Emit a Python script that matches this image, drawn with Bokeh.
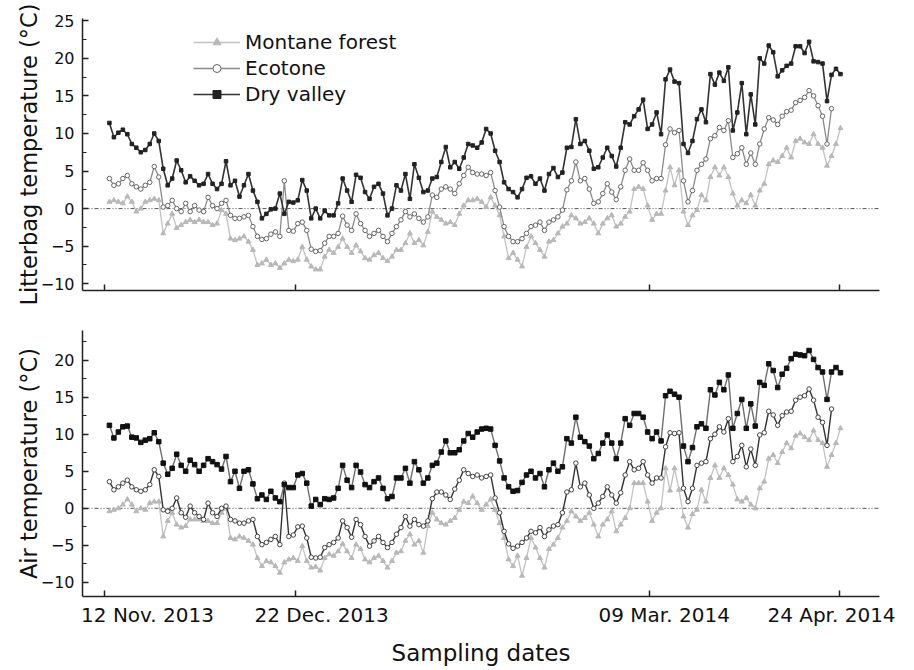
import numpy as np
from bokeh.plotting import figure
from bokeh.models import (LinearAxis, FixedTicker, SingleIntervalTicker, Range1d,
                          Span, Legend, LegendItem)
from bokeh.layouts import column
from bokeh.embed import file_html
from bokeh.resources import INLINE

nan = float("nan")

# ---------------- data (daily values, 12 Nov 2013 -> 24 Apr 2014) ----------------
SERIES_NAMES = ["Montane forest", "Ecotone", "Dry valley"]
TICK_LABELS = ["12 Nov. 2013", "22 Dec. 2013", "09 Mar. 2014", "24 Apr. 2014"]
Y_LABELS = ["Litterbag temperature (\u00b0C)", "Air temperature (\u00b0C)"]
X_LABEL = "Sampling dates"

LITTER_MONTANE = [
    0.9, 1.1, 0.9, 0.7, 1.6, 0.9, -0.4, 0.0, 0.9, 1.1, 1.3, 1.1, -3.3, -2.0, -0.7, -2.6, -2.2, -1.8, -1.5, -1.8,
    -1.5, -1.8, -1.8, -2.2, -2.0, -0.2, -0.7, -4.0, -4.2, -4.0, -3.7, -4.4, -5.5, -7.5, -7.3, -6.8, -7.5, -7.3, -7.9, -7.3,
    -6.8, -7.0, -6.8,
    -5.1, -6.8, -7.7, -8.1, -8.1, -6.4, -5.5, -5.9, -5.1, -4.0, -5.1, -5.9, -4.9, -5.7, -6.6, -6.8, -6.2, -5.9, -6.6, -7.0,
    -6.4, -5.5, -5.5, -4.6, -3.3, -4.6, -4.2, -4.9, -3.1, -0.4, -1.1, -1.5, -2.0, -1.8, -2.2, -0.7, 0.4, 1.1, 1.1, 1.3,
    0.9, 0.2,
    1.5, 0.4, -0.9, -3.7, -6.6, -5.9, -6.8, -7.7, -5.1, -3.7, -4.6, -5.5, -6.4, -4.4, -4.2, -3.3, -2.4, -2.0, -0.9, -1.3,
    -2.0, -1.8, -1.3, -2.0, -3.3, -2.0, -1.3, -0.9, -2.4, -2.0, -1.1, -0.4, 2.6, 2.9, 2.6, 0.4, -1.5, -0.7,
    -0.7, 2.4, 5.5, 3.1, 5.1, -0.4, -2.2, -0.9, -0.2, 1.8, 1.1, 4.2, 5.5, 4.4, 5.5, 4.2, 2.0, 0.4, 1.1, 0.7,
    1.8, 0.4, 2.4, 3.3, 5.9, 6.4, 6.2, 7.0, 8.1, 6.8, 9.0, 9.3, 8.8, 8.6, 9.9, 8.6, 8.1, 5.7, 7.0, 8.6, 10.7,
]
LITTER_ECOTONE = [
    4.0, 3.1, 3.3, 4.0, 4.4, 3.3, 2.9, 2.6, 3.1, 3.5, 5.6, 4.2, 0.2, 0.4, 1.1, 0.0, -0.4, 0.7, -0.4, 0.4,
    -0.2, -0.4, 1.5, 0.4, 0.0, 0.7, 1.1, -0.9, -1.3, -1.3, -1.1, -0.9, -2.4, -3.7, -4.1, -4.0, -3.4, -3.1, -3.7, 3.7,
    -2.9, -3.0, -2.0,
    -1.8, -2.9, -5.4, -5.7, -5.6, -4.6, -3.7, -3.7, -3.3, -1.0, -2.2, -2.9, -0.7, -2.0, -2.9, -3.7, -3.3, -2.9, -3.7, -4.4,
    -3.3, -2.4, -1.5, -0.4, -1.1, -0.7, -1.3, -1.8, -1.1, 1.8, 1.5, 2.6, 2.9, 2.6, 2.0, 3.3, 4.4, 5.5, 4.8, 4.6,
    4.6, 4.4,
    4.8, 2.4, 0.2, -2.4, -3.7, -4.4, -4.4, -4.0, -3.3, -2.4, -2.2, -1.8, -2.9, -1.8, -1.5, -1.1, -0.2, 2.5, 3.7, 6.2,
    3.7, 4.0, 2.6, 0.7, 0.9, 2.0, 3.3, 2.2, 1.2, 2.9, 5.1, 6.6, 5.1, 5.1, 6.1, 5.1, 3.7, 4.0,
    4.0, 8.5, 10.6, 10.1, 10.4, 3.7, 0.9, 2.4, 5.1, 5.9, 6.6, 9.3, 9.7, 10.8, 10.4, 11.7, 6.8, 7.3, 8.1, 5.9,
    7.4, 5.9, 8.6, 10.6, 12.1, 11.8, 11.2, 12.3, 12.9, 13.1, 14.1, 14.4, 14.8, 15.7, 15.0, 13.7, 12.3, 8.6, 13.3, nan, nan,
]
LITTER_DRY = [
    11.4, 9.5, 10.1, 10.5, 9.9, 8.6, 8.1, 7.5, 7.8, 8.6, 10.0, 9.0, 5.3, 3.1, 4.0, 6.4, 5.1, 3.5, 4.3, 3.7,
    3.1, 3.3, 4.6, 3.3, 2.6, 3.3, 6.3, 3.1, 3.7, 1.6, 3.1, 4.6, 2.4, 0.9, -1.3, -0.7, -0.1, 0.0, 2.0, -0.7,
    0.9, 0.8, 1.1,
    3.8, 2.4, -1.3, 0.0, -1.3, -0.3, -0.9, -0.9, 0.7, 4.0, 2.4, 0.9, 4.5, 4.1, 2.2, 1.3, 2.9, 3.3, 2.0, -0.9,
    0.0, 3.1, 2.4, 4.6, 1.3, 5.9, 4.1, 2.2, 2.4, 4.0, 4.2, 6.2, 8.2, 5.5, 6.2, 5.3, 6.8, 8.6, 8.4, 8.1,
    8.8, 10.6,
    10.0, 7.7, 6.2, 3.5, 2.6, 2.2, 1.5, 2.6, 4.1, 4.3, 3.3, 4.0, 2.4, 4.6, 5.4, 4.2, 4.8, 8.1, 8.2, 11.9,
    8.6, 9.0, 7.7, 5.3, 5.5, 6.8, 8.1, 7.0, 5.6, 8.1, 11.5, 11.2, 12.3, 13.2, 14.5, 10.6, 11.2, 12.8,
    9.9, 17.2, 18.5, 16.9, 16.7, 8.6, 7.4, 9.0, 11.9, 13.2, 11.5, 17.9, 16.5, 18.1, 17.0, 18.8, 10.4, 12.8, 16.7, 9.9,
    15.2, 11.2, 20.0, 19.3, 21.7, 20.8, 17.6, 18.4, 19.0, 19.3, 21.6, 21.6, 20.7, 22.2, 19.6, 19.5, 19.3, 14.3, 17.8, 18.6, 17.9,
]

AIR_MONTANE = [
    -0.4, -0.2, 0.0, 0.5, 1.2, 0.5, -0.4, 0.0, -0.2, 0.7, 0.9, 0.9, -3.8, -1.7, -0.6, -2.2, -2.6, -2.4, -1.5, -1.5,
    -1.5, -1.7, -1.7, -2.0, -2.0, -0.6, 0.0, -4.0, -4.2, -3.8, -4.0, -4.4, -4.9, -6.7, -7.8, -7.1, -7.3, -7.8, -8.7, -7.3,
    -6.9, -6.7, -7.1,
    -5.1, -7.1, -8.0, -7.9, -8.4, -6.7, -6.2, -6.4, -5.8, -4.8, -5.8, -6.7, -4.9, -5.5, -6.9, -7.3, -6.7, -6.4, -7.1, -8.0,
    -7.1, -6.0, -5.8, -4.4, -3.5, -4.9, -4.4, -6.0, -2.4, -0.6, -1.5, -2.0, -2.2, -1.7, -1.3, -0.2, 0.9, 0.7, 1.6, 0.7,
    -0.2, 0.5,
    1.2, -0.2, -2.0, -4.0, -6.9, -7.8, -6.4, -9.1, -6.7, -4.0, -5.3, -6.7, -8.0, -5.5, -4.9, -4.0, -2.6, -1.7, -0.4, -1.1,
    -1.7, -1.3, -0.6, -2.2, -3.8, -2.2, -1.5, -0.4, -3.1, -2.2, -1.3, 0.0, 3.4, 3.4, 3.4, 0.9, -1.7, -0.6,
    0.0, 5.4, 2.4, 5.4, 2.5, -1.1, -2.6, -0.8, -0.2, 2.5, 0.9, 4.1, 5.8, 4.1, 5.4, 4.5, 3.2, 1.2, 0.9, 1.4,
    0.5, 0.0, 2.7, 3.6, 6.7, 7.2, 6.1, 7.6, 8.8, 8.1, 9.8, 10.1, 9.6, 9.2, 10.5, 9.2, 8.8, 5.6, 7.2, 8.8, 10.8,
]
AIR_ECOTONE = [
    3.6, 2.5, 2.9, 3.4, 3.8, 2.9, 2.5, 2.3, 2.5, 3.2, 5.2, 4.3, -0.2, -0.4, 0.0, 1.4, -0.6, -1.2, 0.3, -0.6,
    -1.1, -1.5, 0.7, -0.6, -1.1, 0.0, 0.3, -1.5, -1.7, -2.0, -2.0, -1.7, -1.5, -3.8, -4.9, -4.6, -4.2, -3.8, -4.9, 3.4,
    -3.8, -3.6, -2.5,
    -2.4, -4.0, -6.6, -6.7, -6.6, -5.3, -4.9, -4.6, -4.0, -1.7, -2.6, -3.9, -1.5, -2.2, -3.8, -5.1, -4.4, -3.8, -4.6, -5.3,
    -4.6, -3.5, -2.6, -1.1, -2.4, -1.5, -2.2, -2.4, -1.7, 1.3, 2.2, 2.2, 1.8, 1.2, 2.6, 3.8, 5.2, 4.7, 4.3, 4.5,
    4.1, 4.3,
    4.5, 1.4, -0.6, -3.1, -4.8, -5.4, -5.1, -4.6, -4.0, -3.1, -3.3, -2.6, -3.8, -2.9, -2.4, -2.2, -0.6, 2.2, 2.5, 6.1,
    2.9, 3.4, 1.8, 0.0, 0.7, 1.6, 2.9, 1.8, 0.7, 2.1, 4.5, 6.3, 5.2, 5.4, 6.3, 4.5, 3.4, 4.1,
    4.1, 8.3, 10.2, 10.1, 10.2, 2.7, 0.9, 2.7, 5.8, 6.1, 6.3, 9.4, 10.0, 11.0, 10.3, 12.1, 6.3, 7.0, 8.5, 5.6,
    8.0, 5.8, 9.9, 10.2, 13.1, 12.6, 11.2, 12.5, 13.0, 13.1, 14.6, 15.0, 15.2, 16.1, 14.6, 12.3, 11.6, 8.5, 13.4, nan, nan,
]
AIR_DRY = [
    11.2, 9.5, 10.3, 11.0, 11.1, 9.6, 9.5, 8.9, 9.2, 9.4, 10.2, 9.0, 6.1, 4.6, 5.4, 7.3, 5.8, 5.0, 6.5, 5.9,
    5.0, 5.8, 6.7, 6.3, 5.9, 5.3, 7.0, 3.6, 5.0, 2.7, 5.0, 5.2, 3.3, 1.3, 1.8, 1.2, 2.3, 1.4, 0.9, 3.2,
    2.8, 2.8, 4.5,
    4.7, 3.4, 0.3, 1.2, 0.5, 1.3, 1.2, 1.4, 2.7, 5.8, 3.8, 2.8, 5.8, 4.9, 3.2, 2.8, 3.6, 4.1, 2.7, 1.3,
    1.6, 4.1, 4.1, 5.4, 3.4, 6.3, 5.2, 3.4, 4.1, 5.8, 6.1, 7.6, 9.1, 7.5, 7.5, 7.9, 9.1, 10.1, 9.6, 10.3,
    10.7, 10.8,
    10.7, 8.5, 6.4, 4.1, 2.9, 2.3, 2.4, 3.5, 4.5, 5.0, 4.1, 4.7, 2.9, 5.2, 6.1, 5.0, 5.6, 9.4, 8.8, 12.3,
    9.6, 9.0, 8.4, 6.7, 7.4, 8.8, 9.9, 8.8, 6.7, 8.8, 12.1, 11.2, 12.8, 12.8, 12.3, 10.3, 9.4, 10.3,
    9.1, 15.2, 15.8, 15.4, 15.0, 8.4, 6.3, 8.2, 11.0, 11.4, 10.8, 16.0, 15.3, 17.0, 16.0, 18.0, 10.8, 12.8, 14.7, 10.8,
    14.1, 11.1, 17.0, 16.6, 19.5, 18.6, 16.3, 18.1, 18.9, 20.2, 20.8, 20.7, 20.6, 21.3, 20.1, 19.0, 18.4, 14.7, 18.4, 19.0, 18.3,
]

# ---------------- layout / style constants ----------------
FONT = "DejaVu Sans"
N = len(LITTER_DRY)
days = np.arange(N)
for s in (LITTER_MONTANE, LITTER_ECOTONE, AIR_MONTANE, AIR_ECOTONE, AIR_DRY):
    assert len(s) == N, len(s)

TICK_POS = [-1.1, 41.5, 120.4, 162.8]     # where the tick marks sit (day index)
LABEL_POS = [8.5, 47.3, 123.7, 161.0]     # where the tick texts sit (day index)

FIG_W = 910
xr = Range1d(-6.0, 171.7)


def style_yaxis(p, label):
    ax = p.yaxis[0]
    ax.ticker = SingleIntervalTicker(interval=5, num_minor_ticks=2)
    ax.axis_label = label
    ax.axis_label_text_font = FONT
    ax.axis_label_text_font_size = "22.5px"
    ax.axis_label_text_font_style = "normal"
    ax.axis_label_text_color = "#111111"
    ax.axis_label_standoff = -4
    ax.major_label_text_font = FONT
    ax.major_label_text_font_size = "16px"
    ax.major_label_text_color = "#111111"
    ax.major_label_standoff = 8
    ax.major_tick_in = 6
    ax.major_tick_out = 0
    ax.minor_tick_in = 4
    ax.minor_tick_out = 0
    ax.axis_line_width = 1.5
    ax.axis_line_color = "#222222"
    ax.major_tick_line_width = 1.5
    ax.major_tick_line_color = "#222222"
    ax.minor_tick_line_width = 1.2
    ax.minor_tick_line_color = "#222222"


def tick_axis():
    # axis line + tick marks only; its labels are not drawn (no colour)
    ax = LinearAxis(ticker=FixedTicker(ticks=TICK_POS, minor_ticks=[]))
    ax.major_label_text_color = None
    ax.major_label_text_font_size = "1px"
    ax.major_label_standoff = 0
    ax.major_tick_in = 6
    ax.major_tick_out = 0
    ax.axis_line_width = 1.5
    ax.axis_line_color = "#222222"
    ax.major_tick_line_width = 1.5
    ax.major_tick_line_color = "#222222"
    return ax


def make_panel(height, yr, border_top, border_bottom, ylabel):
    p = figure(width=FIG_W, height=height, x_range=xr, y_range=Range1d(*yr),
               output_backend="svg", toolbar_location=None,
               x_axis_location=None, y_axis_location="left",
               min_border_left=82, min_border_right=FIG_W - 879,
               min_border_top=border_top, min_border_bottom=border_bottom)
    p.grid.visible = False
    p.outline_line_color = None
    p.background_fill_color = "white"
    p.border_fill_color = "white"
    style_yaxis(p, ylabel)
    p.add_layout(Span(location=0, dimension="width", line_color="#555555",
                      line_width=1, line_dash="4 2 1 2 1 2", level="underlay"))
    p.add_layout(tick_axis(), "below")
    return p


def draw(p, y, lcol, lw, marker, msize, mfill, mline):
    r1 = p.line(days, y, line_color=lcol, line_width=lw)
    r2 = p.scatter(days, y, marker=marker, size=msize, fill_color=mfill,
                   line_color=mline, line_width=1)
    return [r1, r2]


# ---------------- top panel ----------------
p1 = make_panel(314, (-10.9, 25.3), 18, 24, Y_LABELS[0])
r_mf = draw(p1, LITTER_MONTANE, "#c2c2c2", 1.3, "triangle", 5, "#b8b8b8", "#b8b8b8")
r_ec = draw(p1, LITTER_ECOTONE, "#8a8a8a", 1.3, "circle", 4.5, "white", "#666666")
r_dv = draw(p1, LITTER_DRY, "#333333", 1.6, "square", 3.5, "#222222", "#222222")

legend = Legend(items=[LegendItem(label=SERIES_NAMES[0], renderers=r_mf),
                       LegendItem(label=SERIES_NAMES[1], renderers=r_ec),
                       LegendItem(label=SERIES_NAMES[2], renderers=r_dv)],
                location=(111, 184), padding=0, margin=0, spacing=2,
                glyph_width=47, glyph_height=20, label_height=20, label_standoff=5,
                label_text_font=FONT, label_text_font_size="20px",
                label_text_color="#111111",
                border_line_color=None, background_fill_alpha=0)
p1.add_layout(legend)

# ---------------- bottom panel ----------------
p2 = make_panel(354, (-11.9, 24.0), 16, 70, Y_LABELS[1])
draw(p2, AIR_MONTANE, "#c2c2c2", 1.3, "triangle", 5, "#b8b8b8", "#b8b8b8")
draw(p2, AIR_ECOTONE, "#333333", 1.4, "circle", 4.5, "white", "#444444")
draw(p2, AIR_DRY, "#6e6e6e", 1.4, "square", 4.5, "#111111", "#111111")

lab_ax = LinearAxis(ticker=FixedTicker(ticks=LABEL_POS, minor_ticks=[]),
                    major_label_overrides={pos: txt for pos, txt in zip(LABEL_POS, TICK_LABELS)})
lab_ax.axis_line_color = None
lab_ax.major_tick_line_color = None
lab_ax.major_tick_in = 0
lab_ax.major_tick_out = 0
lab_ax.major_label_standoff = 6
lab_ax.major_label_text_font = FONT
lab_ax.major_label_text_font_size = "20px"
lab_ax.major_label_text_color = "#111111"
lab_ax.axis_label = X_LABEL
lab_ax.axis_label_text_font = FONT
lab_ax.axis_label_text_font_size = "23px"
lab_ax.axis_label_text_font_style = "normal"
lab_ax.axis_label_text_color = "#111111"
lab_ax.axis_label_standoff = 10
p2.add_layout(lab_ax, "below")

layout = column(p1, p2, spacing=0)
open("out.html", "w").write(file_html(layout, INLINE))
